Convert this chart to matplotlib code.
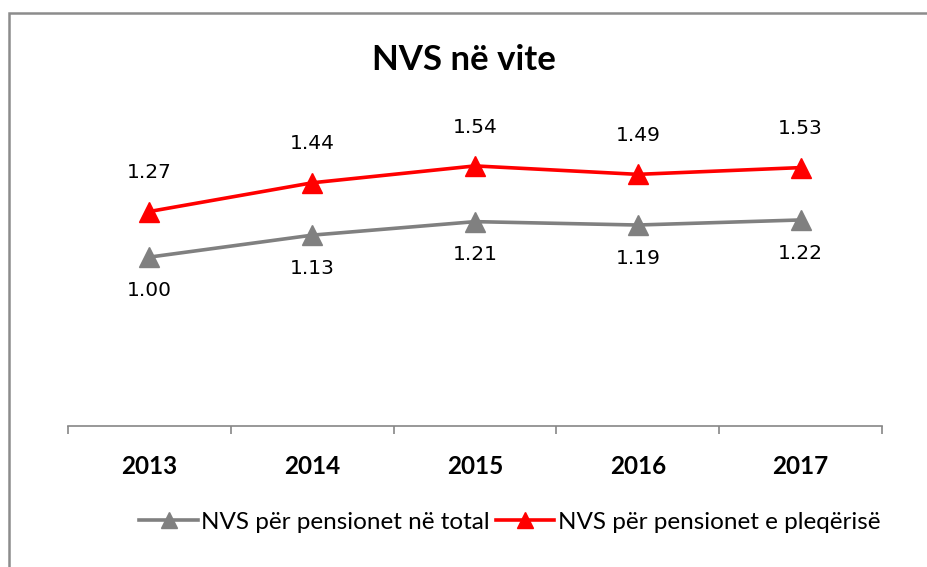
import numpy as np
import matplotlib.pyplot as plt
from matplotlib.patches import Rectangle

years = ['2013', '2014', '2015', '2016', '2017']
nvs_total = [1.00, 1.13, 1.21, 1.19, 1.22]
nvs_pleqerise = [1.27, 1.44, 1.54, 1.49, 1.53]
labels = ['NVS për pensionet në total', 'NVS për pensionet e pleqërisë']

W, H = 928, 567
fig = plt.figure(figsize=(W / 100, H / 100), dpi=100)

# plot area in pixel coords
left, right, bottom, top = 68, 882, 426, 122
ax = fig.add_axes([left / W, (H - bottom) / H, (right - left) / W, (bottom - top) / H])

x = np.arange(len(years))
ax.plot(x, nvs_total, color='#808080', lw=2.6, marker='^', ms=15, label=labels[0])
ax.plot(x, nvs_pleqerise, color='#ff0000', lw=2.6, marker='^', ms=15, label=labels[1])

for xi, v in zip(x, nvs_total):
    ax.annotate(f'{v:.2f}', (xi, v), xytext=(0, -24), textcoords='offset points',
                ha='center', va='center', fontsize=14.5, family='DejaVu Sans')
for xi, v in zip(x, nvs_pleqerise):
    ax.annotate(f'{v:.2f}', (xi, v), xytext=(0, 28), textcoords='offset points',
                ha='center', va='center', fontsize=14.5, family='DejaVu Sans')

ax.set_xlim(-0.5, len(years) - 0.5)
ax.set_ylim(0, 1.8)
for s in ['top', 'right', 'left']:
    ax.spines[s].set_visible(False)
ax.spines['bottom'].set_color('#868686')
ax.spines['bottom'].set_linewidth(1.2)
ax.set_yticks([])
ax.set_xticks(x)
ax.set_xticklabels(years, fontsize=17.5, fontweight='bold', family='Lato')
ax.tick_params(axis='x', which='major', length=0, pad=21)
ax.set_xticks(np.arange(-0.5, len(years)), minor=True)
ax.tick_params(axis='x', which='minor', length=6, width=1.2, color='#868686', direction='out')

fig.text(0.5, (H - 60) / H, 'NVS në vite', ha='center', va='center',
         fontsize=25, fontweight='bold', family='Lato')

ax.legend(loc='center', bbox_to_anchor=(510 / W, (H - 522) / H), bbox_transform=fig.transFigure,
          ncol=2, frameon=False, prop={'family': 'Lato', 'size': 17.5}, handlelength=2.4,
          handletextpad=0.15, columnspacing=0.25, markerscale=0.75)

# outer chart border (runs off the right and bottom edge)
fig.add_artist(Rectangle((9 / W, -0.1), 1.2, (H - 13) / H + 0.1, transform=fig.transFigure,
                         fill=False, edgecolor='#8c8c8c', lw=1.8, clip_on=False))

fig.savefig('out.png', dpi=100)
